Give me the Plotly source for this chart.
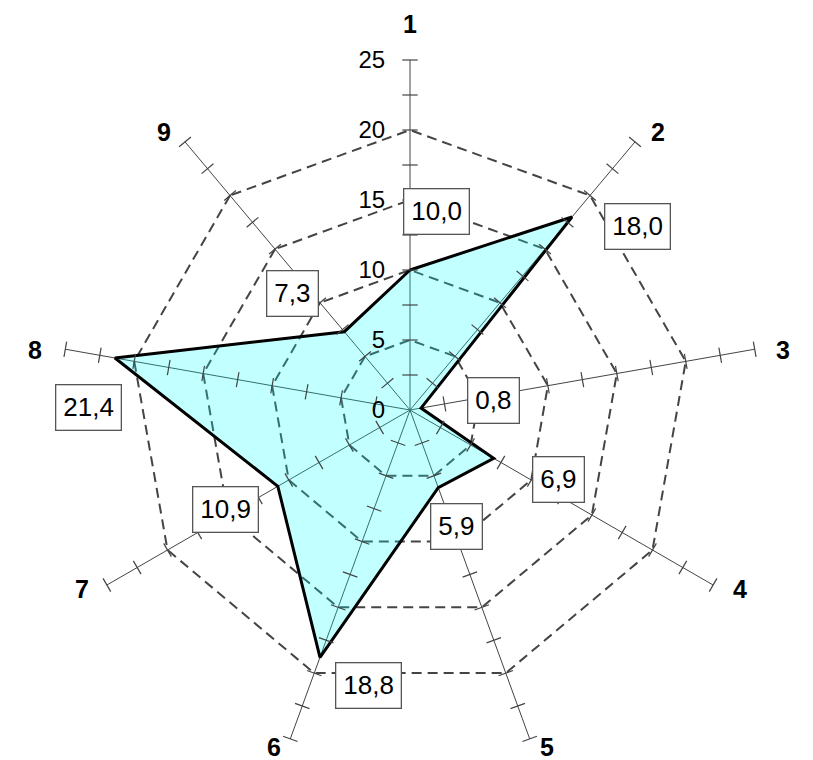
import math
import plotly.graph_objects as go

# ---- data ----
categories = ["1", "2", "3", "4", "5", "6", "7", "8", "9"]
values = [10.0, 18.0, 0.8, 6.9, 5.9, 18.8, 10.9, 21.4, 7.3]
value_labels = ["10,0", "18,0", "0,8", "6,9", "5,9", "18,8", "10,9", "21,4", "7,3"]
radial_tickvals = [0, 5, 10, 15, 20, 25]
radial_ticktext = ["0", "5", "10", "15", "20", "25"]
minor_ticks = [2.5, 5, 7.5, 10, 12.5, 15, 17.5, 20, 22.5, 25]

# ---- layout constants ----
W, H = 813, 760
PAGE_OFFSET = 8            # browser body margin
CX, CY, R = 410 - PAGE_OFFSET, 410 - PAGE_OFFSET, 350
RMAX = 25
FONT = "Liberation Sans, Arial, sans-serif"
# pixel offsets of the value boxes from their data points
label_offsets_px = [(27, -59), (66, 10), (72, -8), (65, 21), (18, 39),
                    (49, 28), (-52, 23), (-26, 50), (-52, -38)]
# pixel offsets of the category names from the outer vertices
category_offsets_px = [(0, -36), (23, -10), (28, 1), (27, 4), (17, 8),
                       (-16, 8), (-25, 4), (-30, 1), (-21, -10)]

n = len(categories)
step = 360.0 / n


def to_px(v, i):
    ang = math.radians(i * step)
    return CX + v / RMAX * R * math.sin(ang), CY - v / RMAX * R * math.cos(ang)


fig = go.Figure()

# filled series
fig.add_trace(go.Scatterpolar(
    r=values + [values[0]],
    theta=categories + [categories[0]],
    mode="lines",
    fill="toself",
    fillcolor="rgba(0,255,255,0.24)",
    line=dict(color="black", width=3),
    hoverinfo="skip",
    showlegend=False,
))

# tick marks across every spoke
tick_r, tick_theta, tick_angle = [], [], []
for i, c in enumerate(categories):
    for t in minor_ticks:
        tick_r.append(t)
        tick_theta.append(c)
        tick_angle.append(i * step)
fig.add_trace(go.Scatterpolar(
    r=tick_r, theta=tick_theta, mode="markers",
    marker=dict(symbol="line-ew", size=11, angle=tick_angle,
                color="#444444", line=dict(color="#444444", width=1.2)),
    hoverinfo="skip", showlegend=False,
))

# centre dot
fig.add_trace(go.Scatterpolar(
    r=[0], theta=[categories[0]], mode="markers",
    marker=dict(size=4, color="#333333"),
    hoverinfo="skip", showlegend=False,
))

annotations = []
# value boxes
for i, (v, txt) in enumerate(zip(values, value_labels)):
    px, py = to_px(v, i)
    dx, dy = label_offsets_px[i]
    annotations.append(dict(
        x=(px + dx) / W, y=1 - (py + dy) / H, xref="paper", yref="paper",
        text=txt, showarrow=False, xanchor="center", yanchor="middle",
        font=dict(family=FONT, size=26, color="black"),
        bgcolor="white", bordercolor="#555555", borderwidth=1.3, borderpad=7,
    ))
# category names beside the outer vertices
for i, c in enumerate(categories):
    px, py = to_px(RMAX, i)
    dx, dy = category_offsets_px[i]
    annotations.append(dict(
        x=(px + dx) / W, y=1 - (py + dy) / H, xref="paper", yref="paper",
        text="<b>%s</b>" % c, showarrow=False, xanchor="center", yanchor="middle",
        font=dict(family=FONT, size=25, color="black"),
    ))

fig.update_layout(
    width=W, height=H, autosize=False,
    margin=dict(l=0, r=0, t=0, b=0),
    paper_bgcolor="white", plot_bgcolor="white",
    font=dict(family=FONT, color="black"),
    annotations=annotations,
    polar=dict(
        domain=dict(x=[(CX - R) / W, (CX + R) / W], y=[(H - CY - R) / H, (H - CY + R) / H]),
        bgcolor="white",
        gridshape="linear",
        radialaxis=dict(
            range=[0, RMAX], tickvals=radial_tickvals, ticktext=radial_ticktext,
            angle=90, tickangle=90, side="counterclockwise",
            showline=False, ticks="outside", ticklen=16, tickcolor="rgba(0,0,0,0)",
            showgrid=True, gridcolor="#444444", gridwidth=1.5, griddash="10px,6px",
            tickfont=dict(family=FONT, size=24, color="black"),
        ),
        angularaxis=dict(
            type="category", categoryarray=categories,
            rotation=90, direction="clockwise",
            showline=False, showgrid=True, gridcolor="#444444", gridwidth=1.2,
            showticklabels=False, ticks="",
        ),
    ),
)

fig.write_html("out.html")
